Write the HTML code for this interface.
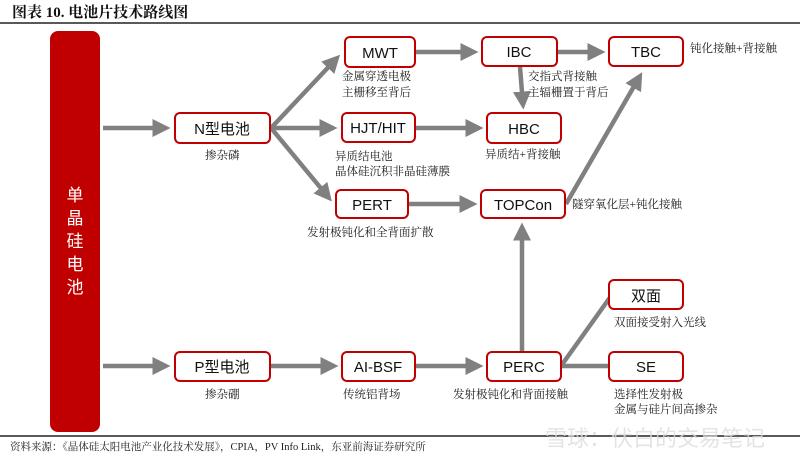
<!DOCTYPE html>
<html><head><meta charset="utf-8"><style>
html,body{margin:0;padding:0;background:#fff;}
svg{display:block;}
.s{font-family:"Liberation Serif","Noto Serif CJK SC",serif;font-size:11.5px;fill:#222;}
.b{font-family:"Liberation Sans","Noto Sans CJK SC",sans-serif;font-size:15px;fill:#111;text-anchor:middle;}
</style></head><body>
<svg width="800" height="459" viewBox="0 0 800 459" xmlns="http://www.w3.org/2000/svg">
<defs><marker id="a" markerWidth="4" markerHeight="4" refX="3" refY="2" orient="auto" markerUnits="strokeWidth"><path d="M0,0 L4,2 L0,4 z" fill="#808080"/></marker></defs>
<text x="12" y="17" font-family="Liberation Serif,Noto Serif CJK SC,serif" font-size="15" font-weight="bold" fill="#111">图表 10. 电池片技术路线图</text>
<line x1="0" y1="23" x2="800" y2="23" stroke="#222" stroke-width="1.5"/>
<rect x="50" y="31" width="50" height="401" rx="8" fill="#c00000"/>
<g font-family="Liberation Sans,Noto Sans CJK SC,sans-serif" font-size="17" fill="#fff" text-anchor="middle">
<text x="75" y="201">单</text><text x="75" y="224">晶</text><text x="75" y="247">硅</text><text x="75" y="270">电</text><text x="75" y="293">池</text></g>
<g stroke="#808080" stroke-width="4.5" fill="none">
<line x1="103" y1="128" x2="166" y2="128" marker-end="url(#a)"/>
<line x1="103" y1="366" x2="166" y2="366" marker-end="url(#a)"/>
<line x1="271" y1="128" x2="337" y2="58" marker-end="url(#a)"/>
<line x1="271" y1="128" x2="333" y2="128" marker-end="url(#a)"/>
<line x1="271" y1="128" x2="329" y2="198" marker-end="url(#a)"/>
<line x1="416" y1="52" x2="474" y2="52" marker-end="url(#a)"/>
<line x1="557" y1="52" x2="601" y2="52" marker-end="url(#a)"/>
<line x1="520" y1="67" x2="523" y2="105" marker-end="url(#a)"/>
<line x1="416" y1="128" x2="479" y2="128" marker-end="url(#a)"/>
<line x1="409" y1="204" x2="473" y2="204" marker-end="url(#a)"/>
<line x1="566" y1="204" x2="640" y2="76" marker-end="url(#a)"/>
<line x1="270" y1="366" x2="334" y2="366" marker-end="url(#a)"/>
<line x1="416" y1="366" x2="479" y2="366" marker-end="url(#a)"/>
<line x1="522" y1="352" x2="522" y2="227" marker-end="url(#a)"/>
<line x1="561" y1="366" x2="611" y2="296"/>
<line x1="561" y1="366" x2="609" y2="366"/>
</g>
<g fill="#fff" stroke="#c00000" stroke-width="2">
<rect x="175" y="113" width="95" height="30" rx="5"/>
<rect x="175" y="352" width="95" height="29" rx="5"/>
<rect x="345" y="37" width="70" height="30" rx="5"/>
<rect x="342" y="113" width="73" height="29" rx="5"/>
<rect x="336" y="190" width="72" height="28" rx="5"/>
<rect x="342" y="352" width="73" height="29" rx="5"/>
<rect x="482" y="37" width="75" height="29" rx="5"/>
<rect x="487" y="113" width="74" height="30" rx="5"/>
<rect x="481" y="190" width="84" height="28" rx="5"/>
<rect x="487" y="352" width="74" height="29" rx="5"/>
<rect x="609" y="37" width="74" height="29" rx="5"/>
<rect x="609" y="280" width="74" height="29" rx="5"/>
<rect x="609" y="352" width="74" height="29" rx="5"/>
</g>
<text class="b" x="222" y="134">N型电池</text>
<text class="b" x="222" y="372">P型电池</text>
<text class="b" x="380" y="58">MWT</text>
<text class="b" x="378" y="133">HJT/HIT</text>
<text class="b" x="372" y="210">PERT</text>
<text class="b" x="378" y="372">AI-BSF</text>
<text class="b" x="519" y="57">IBC</text>
<text class="b" x="524" y="134">HBC</text>
<text class="b" x="523" y="210">TOPCon</text>
<text class="b" x="524" y="372">PERC</text>
<text class="b" x="646" y="57">TBC</text>
<text class="b" x="646" y="301">双面</text>
<text class="b" x="646" y="372">SE</text>
<text class="s" x="342" y="80">金属穿透电极</text>
<text class="s" x="342" y="96">主栅移至背后</text>
<text class="s" x="528" y="80">交指式背接触</text>
<text class="s" x="528" y="96">主辐栅置于背后</text>
<text class="s" x="690" y="52">钝化接触+背接触</text>
<text class="s" x="205" y="159">掺杂磷</text>
<text class="s" x="335" y="160">异质结电池</text>
<text class="s" x="335" y="175">晶体硅沉积非晶硅薄膜</text>
<text class="s" x="485" y="158">异质结+背接触</text>
<text class="s" x="307" y="236">发射极钝化和全背面扩散</text>
<text class="s" x="572" y="208">隧穿氧化层+钝化接触</text>
<text class="s" x="614" y="326">双面接受射入光线</text>
<text class="s" x="205" y="398">掺杂硼</text>
<text class="s" x="343" y="398">传统铝背场</text>
<text class="s" x="453" y="398">发射极钝化和背面接触</text>
<text class="s" x="614" y="398">选择性发射极</text>
<text class="s" x="614" y="413">金属与硅片间高掺杂</text>
<line x1="0" y1="436" x2="800" y2="436" stroke="#222" stroke-width="1.5"/>
<text x="10" y="450" font-family="Liberation Serif,Noto Serif CJK SC,serif" font-size="10.5" fill="#222">资料来源：《晶体硅太阳电池产业化技术发展》，CPIA，PV Info Link，东亚前海证券研究所</text>
<text x="545" y="446" font-family="Liberation Sans,Noto Sans CJK SC,sans-serif" font-size="22" fill="#ddd" opacity="0.8">雪球：伏白的交易笔记</text>
</svg>
</body></html>
